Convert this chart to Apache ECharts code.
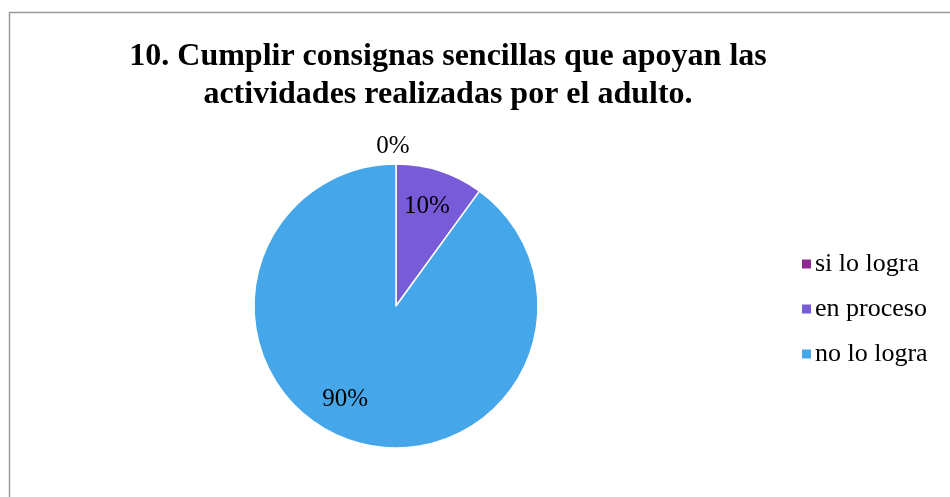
<!DOCTYPE html>
<html>
<head>
<meta charset="utf-8">
<script src="https://cdn.jsdelivr.net/npm/echarts@6/dist/echarts.min.js"></script>
<style>
  html, body { margin: 0; padding: 0; background: #fff; }
  #chart { width: 950px; height: 497px; }
</style>
</head>
<body>
<div id="chart"></div>
<script>
// datos del grafico
const categorias = ['si lo logra', 'en proceso', 'no lo logra']
const valores = [0, 10, 90]
const colores = ['#8e2a8e', '#785bd8', '#45a6ea']

const myChart = echarts.init(document.getElementById('chart'))

// desplazamiento de etiquetas (como en Excel)
const labelShift = [
  { dx: -3, dy: -86 },
  { dx: 8, dy: -29 },
  { dx: -28, dy: 23 },
]

const option = {
  animation: false,
  title: {
    text: '10. Cumplir consignas sencillas que apoyan las\nactividades realizadas por el adulto.',
    left: 443,
    top: 33,
    textAlign: 'center',
    textStyle: {
      fontFamily: 'Liberation Serif',
      fontWeight: 'bold',
      fontSize: 32,
      lineHeight: 38,
      color: '#000',
    },
  },
  legend: {
    orient: 'vertical',
    left: 797,
    top: 246,
    itemWidth: 9,
    itemHeight: 9,
    itemGap: 19,
    icon: 'rect',
    itemStyle: { borderWidth: 0 },
    textStyle: {
      fontFamily: 'Liberation Serif',
      fontSize: 26,
      color: '#000',
      padding: [0, 0, 0, -1],
    },
    data: categorias,
  },
  graphic: [
    {
      type: 'rect',
      shape: { x: 9.5, y: 12.5, width: 960, height: 500 },
      style: { fill: 'none', stroke: '#9a9a9a', lineWidth: 1.5 },
      silent: true,
    },
  ],
  series: [
    {
      type: 'pie',
      center: [396, 306],
      radius: 142,
      startAngle: 90,
      clockwise: true,
      stillShowZeroSum: true,
      itemStyle: { borderColor: '#fff', borderWidth: 1.5 },
      label: {
        show: true,
        position: 'inside',
        formatter: '{d}%',
        fontFamily: 'Liberation Serif',
        fontSize: 25,
        color: '#000',
      },
      labelLine: { show: false },
      labelLayout: function (params) {
        return labelShift[params.dataIndex]
      },
      emphasis: { disabled: true },
      data: categorias.map((c, i) => ({
        name: c,
        value: valores[i],
        itemStyle: { color: colores[i] },
      })),
    },
  ],
}

myChart.setOption(option)
</script>
</body>
</html>
